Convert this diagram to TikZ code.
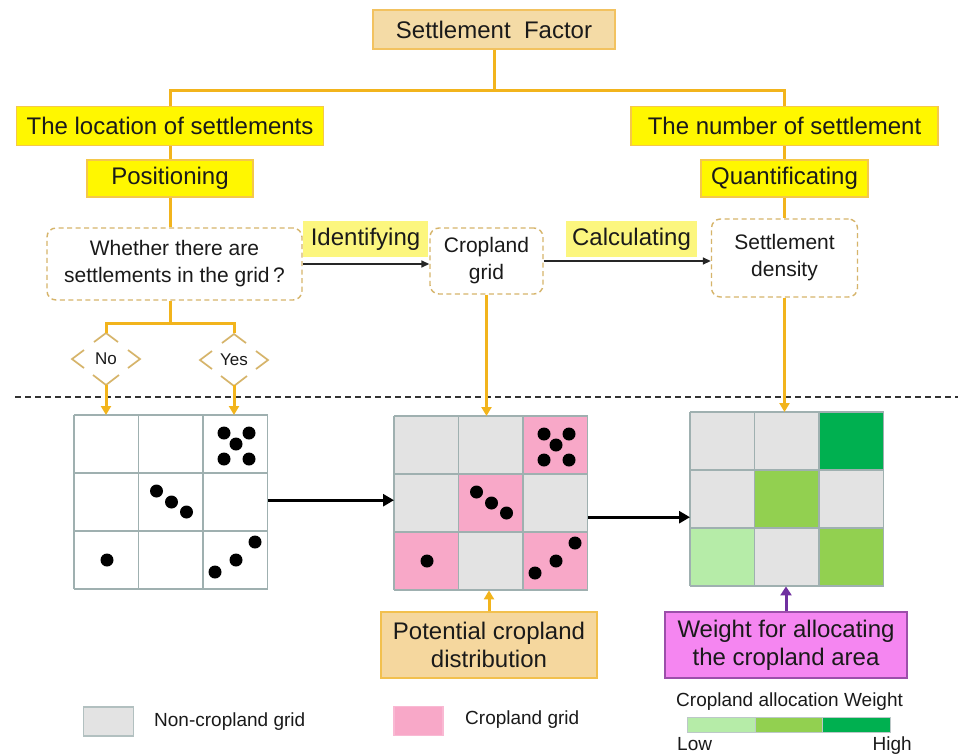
\documentclass[tikz,border=0pt]{standalone}
\usepackage{fontspec}
\setmainfont{Liberation Sans}
\usetikzlibrary{arrows.meta,calc}
\definecolor{orng}{HTML}{F2B41C}
\definecolor{yel}{HTML}{FFF700}
\definecolor{yelbd}{HTML}{F5C84A}
\definecolor{lyel}{HTML}{FCF67E}
\definecolor{tanf}{HTML}{F4DBA6}
\definecolor{tanbd}{HTML}{F2C260}
\definecolor{dashc}{HTML}{D6B46A}
\definecolor{potf}{HTML}{F5D79E}
\definecolor{potbd}{HTML}{F2C04E}
\definecolor{wf}{HTML}{F586F1}
\definecolor{wbd}{HTML}{9C4FAA}
\definecolor{purp}{HTML}{7030A0}
\definecolor{gry}{HTML}{E3E3E3}
\definecolor{gline}{HTML}{9FB0B0}
\definecolor{pnk}{HTML}{F8A8C8}
\definecolor{gA}{HTML}{B6ECA8}
\definecolor{gB}{HTML}{92D050}
\definecolor{gC}{HTML}{00B050}
\definecolor{txt}{HTML}{1A1A1A}
\newcommand{\chevs}[1]{%
 \draw[chev] ($(#1)+(-12,-17)$) -- ($(#1)+(0,-26)$) -- ($(#1)+(12,-17)$);
 \draw[chev] ($(#1)+(-22,-9)$) -- ($(#1)+(-34,0)$) -- ($(#1)+(-22,9)$);
 \draw[chev] ($(#1)+(22,-9)$) -- ($(#1)+(34,0)$) -- ($(#1)+(22,9)$);
 \draw[chev] ($(#1)+(-13,16)$) -- ($(#1)+(0,26)$) -- ($(#1)+(13,16)$);}
\newcommand{\gridlines}[2]{\foreach \i in {0,...,3}{%
 \draw[glin] ({#1+\i*64.5},#2) -- ++(0,174);
 \draw[glin] (#1,{#2+\i*58}) -- ++(193.5,0);}}
\newcommand{\sdots}[2]{%
 \foreach \a/\b in {150/18,175/18,162/29,150/44,175/44,82.5/76,97.5/87,112.5/97,33/145,141/157,162/145,181/127}
   \fill[black] ({#1+\a},{#2+\b}) circle[radius=6.5];}
\newcommand{\cellfills}[3]{%
 \foreach \r/\c/\col in {#3}
   \fill[\col] ({#1+\c*64.5},{#2+\r*58}) rectangle ++(64.5,58);}
\begin{document}
\begin{tikzpicture}[x=1pt,y=-1pt,
  box/.style={draw, line width=1.4pt, inner sep=0pt, align=center, text=txt},
  ybox/.style={box, fill=yel, draw=yelbd, font=\fontsize{24}{28}\selectfont},
  dbox/.style={box, draw=dashc, dash pattern=on 5pt off 3.5pt, rounded corners=9pt, fill=white, font=\fontsize{21}{27}\selectfont},
  lab/.style={fill=lyel, inner sep=0pt, text=txt, font=\fontsize{24}{28}\selectfont},
  conn/.style={draw=orng, line width=3pt},
  oarrow/.style={conn, -{Triangle[length=9pt,width=10pt]}},
  barrow/.style={draw=black, line width=3.2pt, -{Triangle[length=11pt,width=12pt]}},
  tarrow/.style={draw=black!85, line width=1.5pt, -{Triangle[length=8pt,width=7pt]}},
  parrow/.style={draw=purp, line width=3pt, -{Triangle[length=9pt,width=11pt]}},
  chev/.style={draw=dashc, line width=1.7pt},
  glin/.style={draw=gline, line width=1.5pt},
  leg/.style={inner sep=0pt, text=txt, font=\fontsize{19}{22}\selectfont},
  gridbox/.style={inner sep=0pt, minimum width=193.5pt, minimum height=174pt, anchor=north west}
]
\useasboundingbox (0,0) rectangle (958,753);
\fill[white] (0,0) rectangle (958,753);

% top hierarchy
\node[box, fill=tanf, draw=tanbd, font=\fontsize{24}{28}\selectfont, minimum width=242pt, minimum height=39pt] (sf) at (494,29.5) {Settlement~~Factor};
\node[ybox, minimum width=307pt, minimum height=39pt] (loc) at (170,126) {The location of settlements};
\node[ybox, minimum width=307pt, minimum height=39pt] (num) at (784.5,126) {The number of settlement};
\node[ybox, minimum width=166pt, minimum height=37pt] (pos) at (170,178.5) {Positioning};
\node[ybox, minimum width=167pt, minimum height=37pt] (quant) at (784.5,178.5) {Quantificating};

\coordinate (j0) at (494,90);
\draw[conn] (sf.south) -- (j0);
\draw[conn] (loc.north) |- (j0) -| (num.north);
\draw[conn] (loc.south) -- (pos.north);
\draw[conn] (num.south) -- (quant.north);

% middle row
\node[dbox, minimum width=255pt, minimum height=72pt] (wh) at (174.5,264) {Whether there are\\settlements in the grid\,?};
\node[dbox, minimum width=113pt, minimum height=66pt] (crop) at (486.5,261) {Cropland\\grid};
\node[dbox, minimum width=146pt, minimum height=78pt] (dens) at (784.5,258) {Settlement\\density};
\node[lab, minimum width=125pt, minimum height=36pt] (ident) at (365.5,239) {Identifying};
\node[lab, minimum width=131pt, minimum height=36pt] (calc) at (631.5,239) {Calculating};

\draw[conn] (pos.south) -- (pos.south |- wh.north);
\draw[conn] (quant.south) -- (dens.north);
\draw[tarrow] (wh.east) -- (wh.east -| crop.west);
\draw[tarrow] (crop.east) -- (crop.east -| dens.west);

% No / Yes branch
\node[inner sep=0pt, text=txt, font=\fontsize{17}{20}\selectfont] (no) at (106,359) {No};
\node[inner sep=0pt, text=txt, font=\fontsize{17}{20}\selectfont] (yes) at (234,360) {Yes};
\chevs{no}
\chevs{yes}
\coordinate (jb) at (170,323);
\coordinate (not) at ($(no)+(0,-26)$);
\coordinate (yet) at ($(yes)+(0,-27)$);
\coordinate (nob) at ($(no)+(0,26)$);
\coordinate (yeb) at ($(yes)+(0,25)$);
\draw[conn] (pos.south |- wh.south) -- (jb);
\draw[conn] (not) |- (jb) -| (yet);

% separator
\draw[black!80, line width=1.5pt, dash pattern=on 6pt off 4pt] (15,397) -- (958,397);

% grids
\node[gridbox] (g1) at (74,415) {};
\node[gridbox] (g2) at (394,416) {};
\node[gridbox] (g3) at (690,412) {};
\fill[white] (74,415) rectangle ++(193.5,174);
\cellfills{394}{416}{0/0/gry,0/1/gry,0/2/pnk,1/0/gry,1/1/pnk,1/2/gry,2/0/pnk,2/1/gry,2/2/pnk}
\cellfills{690}{412}{0/0/gry,0/1/gry,0/2/gC,1/0/gry,1/1/gB,1/2/gry,2/0/gA,2/1/gry,2/2/gB}
\gridlines{74}{415}
\gridlines{394}{416}
\gridlines{690}{412}
\sdots{74}{415}
\sdots{394}{416}

\draw[oarrow] (nob) -- (nob |- g1.north);
\draw[oarrow] (yeb) -- (yeb |- g1.north);
\draw[oarrow] (crop.south) -- (crop.south |- g2.north);
\draw[oarrow] (dens.south) -- (dens.south |- g3.north);
\coordinate (a1) at ($(g1.east)+(0,-2)$);
\coordinate (a2) at ($(g2.east)+(0,14)$);
\draw[barrow] (a1) -- (a1 -| g2.west);
\draw[barrow] (a2) -- (a2 -| g3.west);

% bottom boxes
\node[box, fill=potf, draw=potbd, font=\fontsize{24}{28}\selectfont, minimum width=216pt, minimum height=66pt] (pot) at (489,645) {Potential cropland\\distribution};
\node[box, fill=wf, draw=wbd, font=\fontsize{24}{28}\selectfont, minimum width=242pt, minimum height=66pt] (wt) at (786,645) {Weight for allocating\\the cropland area};
\draw[oarrow] (pot.north) -- (pot.north |- g2.south);
\draw[parrow] (wt.north) -- (wt.north |- g3.south);

% legends
\node[draw=gline!80, fill=gry, line width=1.2pt, minimum width=50pt, minimum height=29pt, inner sep=0pt] (lg1) at (108.5,721.5) {};
\node[leg, anchor=west] (lt1) at (154,722) {Non-cropland grid};
\node[draw=pnk!80!white, fill=pnk, line width=1.2pt, minimum width=49pt, minimum height=29pt, inner sep=0pt] (lg2) at (418.5,721) {};
\node[leg, anchor=west] (lt2) at (465,720) {Cropland grid};

\node[leg, anchor=west] (cw) at (676,702) {Cropland allocation Weight};
\node[fill=gA, minimum width=68pt, minimum height=15pt, inner sep=0pt, anchor=north west] (b1) at (687,717) {};
\node[fill=gB, minimum width=67pt, minimum height=15pt, inner sep=0pt, anchor=north west] (b2) at (755,717) {};
\node[fill=gC, minimum width=68pt, minimum height=15pt, inner sep=0pt, anchor=north west] (b3) at (822,717) {};
\draw[gline!70, line width=1pt] (687,717) rectangle (890,732);
\draw[gline!70, line width=1pt] (755,717) -- (755,732) (822,717) -- (822,732);
\node[leg, anchor=base west] (lo) at (677,750) {Low};
\node[leg, anchor=base east] (hi) at (912,750) {High};
\end{tikzpicture}
\end{document}
